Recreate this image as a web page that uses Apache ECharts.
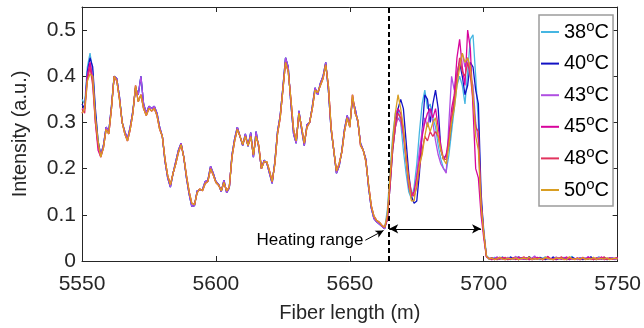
<!DOCTYPE html>
<html>
<head>
<meta charset="utf-8">
<script src="https://cdn.jsdelivr.net/npm/echarts@6/dist/echarts.min.js"></script>
<style>
  html, body { margin: 0; padding: 0; background: #fff; }
  #chart { width: 644px; height: 328px; }
</style>
</head>
<body>
<div id="chart"></div>
<script>
// sample grid: one point per metre from 5550 m
const startM = 5550
const stepM = 1

const tempLabels = ['38', '40', '43', '45', '48', '50']
const colors = ['#45B6E2', '#1212C4', '#B04FE2', '#D8049C', '#E2335E', '#D99E22']

// 5550 - 5556 m, one per curve
const head38 = [.35, .34, .42, .45, .41, .32, .26]
const head40 = [.34, .33, .41, .44, .42, .33, .26]
const head43 = [.33, .33, .40, .43, .40, .31, .25]
const head45 = [.32, .33, .40, .43, .39, .30, .24]
const head48 = [.33, .32, .39, .42, .38, .30, .25]
const head50 = [.32, .33, .39, .405, .40, .31, .26]

// 5557 - 5663 m, outside the heated section (two nearly identical traces)
const unheatedA = [
  .23, .25, .29, .28, .335, .40, .395, .355, .30, .28,
  .265, .29, .325, .375, .36, .40, .34, .32, .335, .33,
  .335, .32, .29, .27, .215, .18, .16, .19, .215, .24,
  .255, .225, .18, .145, .118, .12, .152, .154, .155, .172,
  .175, .205, .19, .172, .166, .15, .175, .148, .158, .23,
  .265, .29, .27, .25, .275, .248, .278, .225, .28, .245,
  .20, .218, .212, .19, .168, .215, .28, .315, .375, .44,
  .42, .34, .275, .255, .325, .285, .25, .295, .30, .335,
  .375, .36, .385, .40, .43, .37, .285, .24, .19, .205,
  .238, .285, .315, .295, .35, .33, .30, .255, .24, .22,
  .16, .115, .092, .085, .08, .075, .07
]
const unheatedB = [
  .225, .245, .285, .275, .33, .40, .39, .35, .30, .275,
  .26, .285, .32, .38, .345, .36, .33, .315, .33, .325,
  .33, .315, .285, .27, .22, .185, .165, .19, .21, .235,
  .252, .225, .185, .15, .125, .122, .148, .156, .152, .168,
  .172, .20, .186, .17, .164, .152, .17, .152, .16, .225,
  .26, .285, .27, .252, .27, .25, .27, .23, .27, .25,
  .20, .215, .215, .195, .172, .21, .275, .31, .37, .43,
  .41, .35, .285, .26, .32, .29, .255, .29, .30, .33,
  .37, .365, .38, .395, .425, .38, .29, .24, .195, .21,
  .235, .28, .31, .29, .36, .32, .305, .25, .24, .215,
  .165, .12, .097, .088, .084, .077, .073
]

// 5664 - 5700 m, heated section
const heated38 = [.11, .19, .27, .32, .33, .30, .24, .19, .15, .135, .16, .21, .28, .34, .37, .33, .34, .31, .29, .25,
  .22, .20, .195, .23, .28, .33, .38, .40, .38, .34, .41, .48, .49, .40, .30, .13, .07]
const heated40 = [.09, .16, .24, .29, .33, .35, .33, .26, .19, .14, .125, .13, .19, .28, .36, .35, .30, .34, .37, .33,
  .24, .22, .23, .25, .30, .35, .40, .43, .40, .36, .38, .43, .42, .37, .34, .15, .06]
const heated43 = [.10, .17, .25, .29, .31, .30, .27, .22, .17, .14, .15, .19, .24, .28, .31, .29, .33, .30, .26, .23,
  .21, .20, .19, .30, .40, .37, .41, .43, .45, .42, .44, .40, .38, .30, .26, .12, .06]
const heated45 = [.09, .17, .25, .31, .33, .32, .28, .22, .16, .14, .15, .18, .22, .27, .30, .32, .33, .31, .33, .29,
  .25, .22, .23, .27, .33, .36, .44, .48, .42, .38, .50, .46, .33, .20, .18, .10, .05]
const heated48 = [.09, .16, .24, .29, .32, .31, .28, .23, .18, .15, .14, .16, .20, .24, .27, .26, .28, .27, .28, .27,
  .24, .22, .22, .26, .31, .35, .40, .44, .41, .40, .43, .40, .35, .29, .28, .13, .06]
const heated50 = [.10, .18, .26, .32, .36, .33, .29, .22, .17, .13, .13, .17, .21, .23, .27, .30, .28, .30, .31, .27,
  .24, .22, .21, .25, .30, .33, .38, .42, .45, .43, .44, .42, .36, .27, .24, .12, .06]

// 5701 - 5750 m, noise floor past the fibre end
const tail38 = [.012, .006, .004, .008, .003, .005, .009, .004, .006, .003, .007, .005, .010, .004, .006, .003, .008, .005, .004, .007,
  .003, .006, .009, .004, .005, .003, .007, .005, .004, .008, .003, .006, .010, .004, .005, .003, .007, .005, .004, .008,
  .003, .006, .009, .004, .005, .003, .007, .005, .004, .006]
const tail40 = [.010, .004, .007, .003, .006, .008, .004, .005, .003, .009, .004, .006, .003, .007, .005, .004, .010, .003, .006, .004,
  .008, .005, .003, .006, .004, .009, .003, .005, .007, .004, .006, .003, .008, .005, .004, .007, .003, .006, .004, .009,
  .005, .003, .006, .004, .008, .003, .005, .007, .004, .006]
const tail43 = [.011, .005, .003, .006, .009, .004, .005, .003, .008, .004, .006, .010, .003, .005, .004, .007, .003, .006, .011, .004,
  .005, .003, .007, .004, .006, .003, .009, .005, .004, .006, .003, .008, .004, .005, .003, .007, .005, .004, .010, .003,
  .006, .004, .008, .005, .003, .006, .004, .007, .003, .005]
const tail45 = [.009, .006, .003, .005, .007, .004, .008, .003, .005, .004, .006, .003, .009, .005, .004, .007, .003, .006, .004, .008,
  .005, .003, .006, .010, .004, .005, .003, .007, .004, .006, .009, .003, .005, .004, .007, .003, .006, .004, .008, .005,
  .003, .006, .004, .009, .003, .005, .007, .004, .006, .008]
const tail48 = [.010, .005, .007, .004, .003, .006, .005, .008, .003, .004, .007, .005, .003, .006, .009, .004, .005, .003, .007, .004,
  .006, .003, .005, .008, .004, .003, .006, .005, .009, .004, .003, .007, .005, .004, .006, .003, .008, .005, .004, .006,
  .003, .007, .004, .005, .009, .003, .006, .004, .005, .007]
const tail50 = [.011, .004, .006, .003, .005, .008, .004, .003, .006, .005, .004, .007, .003, .005, .006, .004, .009, .003, .005, .004,
  .006, .003, .008, .005, .004, .003, .007, .005, .006, .003, .004, .009, .005, .003, .006, .004, .007, .003, .005, .004,
  .008, .003, .006, .005, .004, .007, .003, .005, .006, .004]

// heating section markers
const heatStart = 5664.4
const heatEnd = 5699
const arrowLevel = 0.0696

const curves = [
  [head38, unheatedA, heated38, tail38],
  [head40, unheatedA, heated40, tail40],
  [head43, unheatedA, heated43, tail43],
  [head45, unheatedB, heated45, tail45],
  [head48, unheatedB, heated48, tail48],
  [head50, unheatedB, heated50, tail50]
]

const font = "'Liberation Sans', Arial, Helvetica, sans-serif"
const axisColor = '#262626'

const chart = echarts.init(document.getElementById('chart'), null, { renderer: 'canvas' })

const series = curves.map((parts, k) => {
  const values = [].concat(...parts)
  return {
    name: tempLabels[k],
    type: 'line',
    data: values.map((v, i) => [startM + i * stepM, v]),
    symbol: 'none',
    showSymbol: false,
    lineStyle: { width: 1.3, color: colors[k] },
    itemStyle: { color: colors[k] },
    animation: false,
    z: 2 + k
  }
})

// annotations go on the last curve
series[series.length - 1].markLine = {
  silent: true,
  animation: false,
  symbol: 'none',
  label: { show: false },
  data: [
    [
      { coord: [heatStart, 0], symbol: 'none', lineStyle: { type: [5, 3], width: 2, color: '#000' } },
      { coord: [heatStart, 0.55], symbol: 'none' }
    ],
    [
      { coord: [heatStart + 0.3, arrowLevel], symbol: 'arrow', symbolSize: [7, 9], lineStyle: { type: 'solid', width: 1, color: '#000' } },
      { coord: [heatEnd, arrowLevel], symbol: 'arrow', symbolSize: [7, 9] }
    ],
    [
      { coord: [5655.8, 0.045], symbol: 'none', lineStyle: { type: 'solid', width: 1, color: '#000' } },
      { coord: [5662.6, 0.066], symbol: 'arrow', symbolSize: [6, 8] }
    ]
  ]
}
series[series.length - 1].markPoint = {
  silent: true,
  animation: false,
  symbolSize: 0,
  data: [{ coord: [5655.8, 0.045] }],
  label: {
    show: true,
    position: 'left',
    distance: 2,
    formatter: 'Heating range',
    fontSize: 17,
    color: '#000',
    fontFamily: font
  }
}

const option = {
  animation: false,
  backgroundColor: '#fff',
  grid: { left: 82, right: 26, top: 7, bottom: 66, containLabel: false },
  legend: {
    orient: 'vertical',
    left: 539,
    top: 15,
    padding: [4, 4, 3, 2],
    itemGap: 5.6,
    itemWidth: 18,
    itemHeight: 2,
    icon: 'rect',
    backgroundColor: '#fff',
    borderColor: '#9c9c9c',
    borderWidth: 1.5,
    borderRadius: 0,
    data: tempLabels,
    formatter: name => '{n|' + name + '}{sup|o}{n|C}',
    textStyle: {
      color: '#000',
      fontFamily: font,
      fontSize: 20,
      rich: {
        n: { fontSize: 20, lineHeight: 22, color: '#000', fontFamily: font },
        sup: { fontSize: 15, lineHeight: 15, padding: [0, 0, 11, 0], color: '#000', fontFamily: font }
      }
    }
  },
  xAxis: [
    {
      type: 'value',
      min: 5550,
      max: 5750,
      interval: 50,
      name: 'Fiber length (m)',
      nameLocation: 'middle',
      nameGap: 42,
      nameTextStyle: { fontSize: 20, color: axisColor, fontFamily: font },
      axisLine: { show: true, onZero: false, lineStyle: { color: axisColor, width: 1 } },
      axisTick: { show: true, inside: true, length: 5, lineStyle: { color: axisColor } },
      axisLabel: { fontSize: 21, color: axisColor, fontFamily: font, margin: 13, formatter: v => String(v) },
      splitLine: { show: false }
    },
    {
      type: 'value',
      position: 'top',
      min: 5550,
      max: 5750,
      interval: 50,
      axisLine: { show: true, onZero: false, lineStyle: { color: axisColor, width: 1 } },
      axisTick: { show: true, inside: true, length: 5, lineStyle: { color: axisColor } },
      axisLabel: { show: false },
      splitLine: { show: false }
    }
  ],
  yAxis: [
    {
      type: 'value',
      min: 0,
      max: 0.55,
      interval: 0.1,
      name: 'Intensity (a.u.)',
      nameLocation: 'middle',
      nameGap: 52,
      nameTextStyle: { fontSize: 20, color: axisColor, fontFamily: font },
      axisLine: { show: true, onZero: false, lineStyle: { color: axisColor, width: 1 } },
      axisTick: { show: true, inside: true, length: 5, lineStyle: { color: axisColor } },
      axisLabel: { fontSize: 21, color: axisColor, fontFamily: font, margin: 6, showMaxLabel: false },
      splitLine: { show: false }
    },
    {
      type: 'value',
      position: 'right',
      min: 0,
      max: 0.55,
      interval: 0.1,
      axisLine: { show: true, onZero: false, lineStyle: { color: axisColor, width: 1 } },
      axisTick: { show: true, inside: true, length: 5, lineStyle: { color: axisColor } },
      axisLabel: { show: false },
      splitLine: { show: false }
    }
  ],
  series: series
}

chart.setOption(option)
</script>
</body>
</html>
